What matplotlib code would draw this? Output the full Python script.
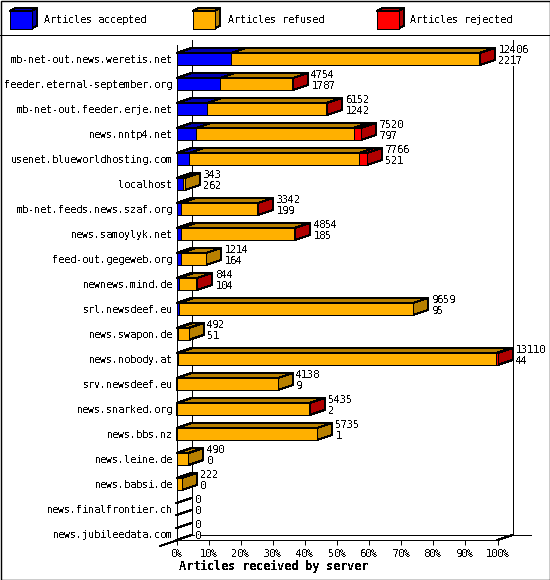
import matplotlib
matplotlib.use("Agg")
import matplotlib.pyplot as plt
from matplotlib.patches import Polygon, Rectangle

# values
servers = ["mb-net-out.news.weretis.net", "feeder.eternal-september.org", "mb-net-out.feeder.erje.net",
           "news.nntp4.net", "usenet.blueworldhosting.com", "localhost", "mb-net.feeds.news.szaf.org",
           "news.samoylyk.net", "feed-out.gegeweb.org", "newnews.mind.de", "srl.newsdeef.eu",
           "news.swapon.de", "news.nobody.at", "srv.newsdeef.eu", "news.snarked.org", "news.bbs.nz",
           "news.leine.de", "news.babsi.de", "news.finalfrontier.ch", "news.jubileedata.com"]
offered = [12406, 4754, 6152, 7520, 7766, 343, 3342, 4854, 1214, 844, 9659, 492, 13110, 4138, 5435, 5735, 490, 222, 0, 0]
accepted = [2217, 1787, 1242, 797, 521, 262, 199, 185, 164, 104, 95, 51, 44, 9, 2, 1, 0, 0, 0, 0]
# no labels for these in the chart, estimated from the red part of the bars
rejected = [30, 10, 40, 290, 320, 0, 20, 40, 0, 8, 0, 0, 60, 0, 5, 0, 0, 0, 0, 0]
pct_ticks = [0, 10, 20, 30, 40, 50, 60, 70, 80, 90, 100]

BLUE, BLUE_D = "#0000ff", "#0000b0"
ORANGE, ORANGE_D = "#ffb000", "#b88000"
RED, RED_D = "#ff0000", "#b00000"

plt.rcParams["font.family"] = "DejaVu Sans Mono"
plt.rcParams["font.size"] = 7.2
plt.rcParams["text.antialiased"] = False
plt.rcParams["text.hinting"] = "force_autohint"
plt.rcParams["text.hinting_factor"] = 1
LW = 0.72

W, H = 550, 580
fig = plt.figure(figsize=(W / 100, H / 100), dpi=100)

# whole figure overlay in pixels, for the frame and the legend
bg = fig.add_axes([0, 0, 1, 1])
bg.set_xlim(0, W)
bg.set_ylim(H, 0)
bg.axis("off")
bg.add_patch(Rectangle((0.5, 0.5), W - 1, H - 1, fill=False, ec="k", lw=LW * 1.4))
bg.plot([0, W], [35.1, 35.1], color="k", lw=LW, antialiased=False)


def box3d(a, x0, x1, y0, y1, dx, dy, face, dark, z=2):
    """front, top and side of one block"""
    a.add_patch(Polygon([(x0, y0), (x0 + dx, y0 - dy), (x1 + dx, y0 - dy), (x1, y0)], fc=dark, ec="k",
                        lw=LW, antialiased=False, zorder=z, clip_on=False))
    a.add_patch(Polygon([(x1, y0), (x1 + dx, y0 - dy), (x1 + dx, y1 - dy), (x1, y1)], fc=dark, ec="k",
                        lw=LW, antialiased=False, zorder=z, clip_on=False))
    a.add_patch(Rectangle((x0, y0), x1 - x0, y1 - y0, fc=face, ec="k",
                          lw=LW, antialiased=False, zorder=z + 0.1, clip_on=False))


legend_items = [("Articles accepted", 10.0, 44.5, BLUE, BLUE_D),
                ("Articles refused", 193.0, 227.5, ORANGE, ORANGE_D),
                ("Articles rejected", 377.0, 410.5, RED, RED_D)]
for name, bx, tx, c, d in legend_items:
    box3d(bg, bx, bx + 22, 11, 28.5, 5, 3, c, d)
    bg.text(tx, 20, name, va="center", ha="left")

# the chart itself: x in percent of the largest server, y in rows
ax = fig.add_axes([176.5 / W, (H - 540.0) / H, 321 / W, 495 / H])
ax.patch.set_alpha(0)
top_max = max(offered)
ax.set_xlim(0, 100)
ax.set_ylim(19.24, -0.56)
dx = 15 / 3.21
dy = 5 / 25
half = 6 / 25

for s in ["top", "right"]:
    ax.spines[s].set_visible(False)
for s in ["left", "bottom"]:
    ax.spines[s].set_linewidth(LW)
    ax.spines[s].set_antialiased(False)
ax.set_xticks(pct_ticks)
ax.set_xticklabels([f"{p}%" for p in pct_ticks])
ax.set_yticks(range(len(servers)))
ax.set_yticklabels(servers)
ax.tick_params(axis="x", length=3.6, width=LW, pad=2.8)
ax.tick_params(axis="y", length=0, pad=2.8)
ax.set_xlabel("Articles received by server", fontweight="bold", fontsize=8.4)
ax.xaxis.set_label_coords(97 / 321, -26 / 495)
ax.xaxis.label.set_va("center")

# back walls and floor
wall = dict(color="k", lw=LW, antialiased=False, clip_on=False, zorder=1)
ax.plot([dx, dx], [-0.76, 19.04], **wall)
ax.plot([100 + dx, 100 + dx], [-0.76, 19.04], **wall)
ax.plot([dx, 110.5], [19.04, 19.04], **wall)
ax.plot([-5, dx], [19.24 + 0.24, 19.04], **wall)
ax.plot([100, 100 + dx], [19.24, 19.04], **wall)

for i, total in enumerate(offered):
    y0, y1 = i - half, i + half
    if total == 0:
        # empty rows only show the slanted edges on the wall
        ax.plot([0, dx], [y0, y0 - dy], **wall)
        ax.plot([0, dx], [y1, y1 - dy], **wall)
    else:
        a = accepted[i] * 100 / top_max
        r = (total - rejected[i]) * 100 / top_max
        e = total * 100 / top_max
        z = 2 + i * 0.01
        if a > 0:
            box3d(ax, 0, a, y0, y1, dx, dy, BLUE, BLUE_D, z)
        box3d(ax, a, r, y0, y1, dx, dy, ORANGE, ORANGE_D, z + 0.2)
        if rejected[i] > 0:
            box3d(ax, r, e, y0, y1, dx, dy, RED, RED_D, z + 0.4)
    lx = total * 100 / top_max + dx + 3.5 / 3.21
    box = dict(fc="white", ec="none", pad=0)
    ax.text(lx, i - 9 / 25, str(total), va="center", ha="left", bbox=box, zorder=1.5, clip_on=False)
    ax.text(lx, i + 2 / 25, str(accepted[i]), va="center", ha="left", bbox=box, zorder=1.5, clip_on=False)

fig.savefig("out.png", dpi=100)
